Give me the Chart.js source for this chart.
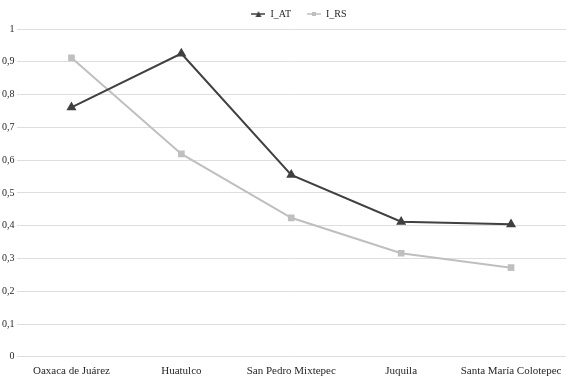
<!DOCTYPE html>
<html>
<head>
<meta charset="utf-8">
<script src="https://cdn.jsdelivr.net/npm/chart.js@4.4.0/dist/chart.umd.min.js"></script>
<style>
  html, body { margin: 0; padding: 0; background: #fff; }
  #wrap { width: 580px; height: 390px; position: relative; }
</style>
</head>
<body>
<div id="wrap"><canvas id="lineChart"></canvas></div>
<script>
const categories = ['Oaxaca de Juárez', 'Huatulco', 'San Pedro Mixtepec', 'Juquila', 'Santa María Colotepec'];
const seriesAT = [0.761, 0.925, 0.555, 0.412, 0.404];
const seriesRS = [0.912, 0.619, 0.424, 0.316, 0.272];
const yTicks = [0, 0.1, 0.2, 0.3, 0.4, 0.5, 0.6, 0.7, 0.8, 0.9, 1];

const colorAT = '#404040';
const colorRS = '#bfbfbf';
const fontFamily = "'Liberation Serif', 'DejaVu Serif', serif";

// small legend icon: line with marker in the middle
function legendIcon(color, shape) {
  const c = document.createElement('canvas');
  c.width = 14; c.height = 8;
  const g = c.getContext('2d');
  g.strokeStyle = color; g.lineWidth = 1.5;
  g.beginPath(); g.moveTo(0, 4); g.lineTo(14, 4); g.stroke();
  g.fillStyle = color;
  if (shape === 'triangle') {
    g.beginPath(); g.moveTo(7, 1); g.lineTo(10, 7); g.lineTo(4, 7); g.closePath(); g.fill();
  } else {
    g.fillRect(5, 2, 4, 4);
  }
  return c;
}

// legend in the reference sits a bit right of the canvas centre
const legendShift = {
  id: 'legendShift',
  afterLayout(chart) {
    if (chart.legend) { chart.legend.left += 16; chart.legend.right += 16; }
  }
};

const ctx = document.getElementById('lineChart').getContext('2d');
new Chart(ctx, {
  type: 'line',
  data: {
    labels: categories,
    datasets: [
      {
        label: 'I_AT',
        data: seriesAT,
        borderColor: colorAT,
        backgroundColor: colorAT,
        borderWidth: 2,
        pointStyle: 'triangle',
        pointRadius: 3.8,
        pointHoverRadius: 3.8,
        tension: 0
      },
      {
        label: 'I_RS',
        data: seriesRS,
        borderColor: colorRS,
        backgroundColor: colorRS,
        borderWidth: 2,
        pointStyle: 'rect',
        pointRadius: 3.3,
        pointHoverRadius: 3.3,
        tension: 0
      }
    ]
  },
  plugins: [legendShift],
  options: {
    responsive: true,
    maintainAspectRatio: false,
    animation: false,
    layout: { padding: { top: 3, left: 0, right: 14, bottom: 12 } },
    scales: {
      x: {
        offset: true,
        grid: { display: false },
        border: { display: false },
        ticks: { color: '#262626', font: { family: fontFamily, size: 11 }, maxRotation: 0, padding: 0 }
      },
      y: {
        min: 0,
        max: 1,
        afterBuildTicks: axis => { axis.ticks = yTicks.map(v => ({ value: v })); },
        grid: { color: '#dedede', lineWidth: 1, drawTicks: false },
        border: { display: false },
        ticks: {
          color: '#262626',
          padding: 2,
          font: { family: fontFamily, size: 10 },
          callback: v => String(v).replace('.', ',')
        }
      }
    },
    plugins: {
      legend: {
        position: 'top',
        labels: {
          color: '#262626',
          font: { family: fontFamily, size: 10 },
          boxHeight: 8,
          pointStyleWidth: 14,
          padding: 6,
          usePointStyle: true,
          generateLabels: chart => chart.data.datasets.map((ds, i) => ({
            text: i === 0 ? ds.label + '    ' : ds.label,
            datasetIndex: i,
            fontColor: '#262626',
            pointStyle: legendIcon(ds.borderColor, ds.pointStyle === 'triangle' ? 'triangle' : 'rect'),
            hidden: false
          }))
        }
      },
      tooltip: { enabled: false }
    }
  }
});
</script>
</body>
</html>
